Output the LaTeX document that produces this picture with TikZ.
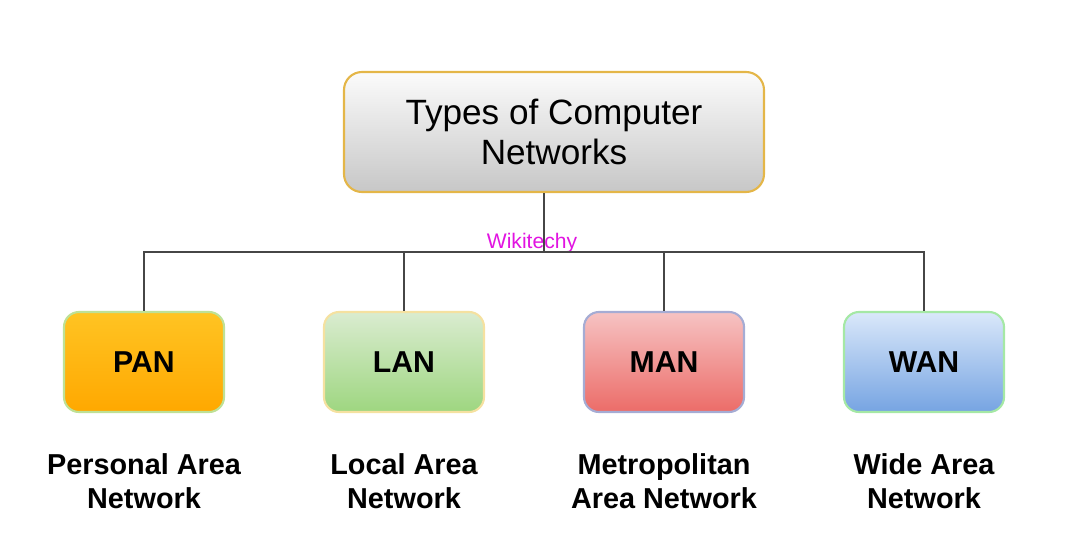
\documentclass[tikz,border=0pt]{standalone}
\usepackage{fontspec}
\setmainfont{Liberation Sans}
\usetikzlibrary{shadings}

\definecolor{linegray}{RGB}{70,70,70}
\definecolor{goldline}{RGB}{228,182,72}
\definecolor{wikipink}{RGB}{225,20,225}

\tikzset{
  netbox/.style={rounded corners=0.15cm, minimum width=1.6cm, minimum height=1.0cm,
    font=\fontsize{8.6}{10}\selectfont\bfseries, line width=0.6pt},
  netlabel/.style={align=center, font=\fontsize{8.2}{9.5}\selectfont\bfseries},
  link/.style={draw=linegray, line width=0.8pt}
}

\begin{document}
\begin{tikzpicture}[node distance=2.6cm]
    \useasboundingbox (0,0) rectangle (10.86,5.42);

    \node at (5.54, 4.10) (types) [rounded corners=0.18cm, minimum width=4.2cm, minimum height=1.2cm,
      draw=goldline, line width=0.6pt, top color=white!97!gray, bottom color=black!22,
      align=center, font=\fontsize{10}{11.4}\selectfont] {Types of Computer\\Networks};
    \coordinate (bus) at (5.44, 2.90);

    \node at (5.32, 2.99) (wiki) [text=wikipink, font=\fontsize{6}{7}\selectfont] {Wikitechy};

    \draw node at (1.44, 1.80) (pan) [netbox, draw={rgb,255:red,190;green,225;blue,150},
        top color={rgb,255:red,255;green,196;blue,35}, bottom color={rgb,255:red,255;green,168;blue,0}] {PAN}
    node (lan) [right of=pan, netbox, draw={rgb,255:red,245;green,225;blue,160},
        top color={rgb,255:red,218;green,236;blue,208}, bottom color={rgb,255:red,158;green,214;blue,128}] {LAN}
    node (man) [right of=lan, netbox, draw={rgb,255:red,165;green,172;blue,212},
        top color={rgb,255:red,246;green,195;blue,195}, bottom color={rgb,255:red,236;green,108;blue,104}] {MAN}
    node (wan) [right of=man, netbox, draw={rgb,255:red,165;green,232;blue,165},
        top color={rgb,255:red,218;green,232;blue,250}, bottom color={rgb,255:red,118;green,164;blue,226}] {WAN};

    \node (panname) [below of=pan, node distance=1.19cm, netlabel] {Personal Area\\Network};
    \node (lanname) [below of=lan, node distance=1.19cm, netlabel] {Local Area\\Network};
    \node (manname) [below of=man, node distance=1.19cm, netlabel] {Metropolitan\\Area Network};
    \node (wanname) [below of=wan, node distance=1.19cm, netlabel] {Wide Area\\Network};

    \draw[link] (types.south -| bus) -- (bus);
    \draw[link] (pan.north) |- (bus) -| (wan.north);
    \draw[link] (lan.north) -- (lan.north |- bus);
    \draw[link] (man.north) -- (man.north |- bus);
  \end{tikzpicture}
\end{document}
